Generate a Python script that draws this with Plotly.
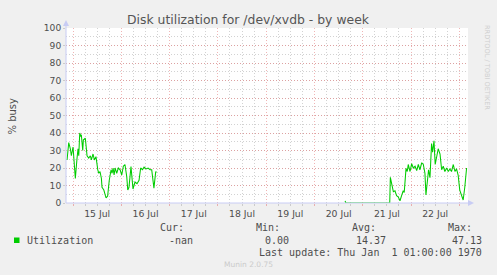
import pandas as pd
import plotly.graph_objects as go

# ---- data ----
# hours since 15 Jul 00:00, and % busy (None = no data)
hours = [
    -2.98, -2.14, -1.34, -0.84, 0.0, 0.5, 1.14, 1.99, 2.48, 2.83, 3.33, 3.83, 4.12,
    4.82, 5.12, 6.1, 6.96, 7.8, 8.6, 9.1, 9.94, 10.6, 11.4, 12.3, 12.8, 13.4, 14.1,
    14.4, 15.3, 16.4, 17.2, 18.0, 18.9, 19.4, 19.9, 20.4, 20.9, 21.7, 22.5, 23.4,
    24.2, 25.0, 25.8, 26.7, 27.2, 27.8, 28.3, 28.8, 29.8, 30.8, 31.8, 32.8, 33.6,
    34.5, 35.3, 36.3, 37.3, 38.3, 39.1, 39.8, 40.2, 41.1, 41.5,
    42.0,
    135.2, 135.6, 146.0, 157.4, 157.7, 158.4, 159.2, 160.0, 160.8, 161.6, 162.5,
    163.3, 164.1, 164.6, 165.5, 166.1, 166.6, 167.5, 168.3, 169.1, 170.0, 170.8,
    171.6, 172.4, 173.3, 174.1, 174.9, 175.4, 176.0, 176.7, 177.4, 178.2, 178.7,
    179.4, 180.0, 180.7, 181.5, 182.4, 183.2, 184.0, 184.8, 185.7, 186.5, 187.3,
    188.1, 189.0, 189.8, 190.6, 191.4, 192.2, 193.1, 193.9, 194.7, 195.6,
]
busy = [
    24.6, 34.5, 31, 27, 32, 25, 14, 25.7, 31, 27, 40, 38, 39,
    30, 36, 37, 27, 25.7, 27, 24.6, 28, 24.6, 26.5, 18.9, 17, 18, 14,
    9, 7.4, 2.9, 4, 13, 19, 17, 20, 16, 20, 17, 20, 19,
    16, 21, 22, 15, 7.4, 9, 14, 20.8, 8, 12, 11, 13, 20,
    19, 20.5, 19.5, 20, 19, 19, 9.5, 8.5, 18, 17.5,
    None,
    1.2, 0, 0, 0, 14.7, 10.5, 6.5, 7, 4.2, 3.5, 1.3,
    4.2, 7, 6, 19.8, 18, 22, 18, 22.5, 20, 21, 18.5,
    22, 19, 23, 22, 17, 4.6, 13, 19, 14.5, 34, 29,
    35.5, 22, 27, 31, 28, 19, 21, 18, 20, 18, 19.5,
    18, 22, 18, 19.5, 16, 7.4, 4.5, 1.7, 9, 20,
]
y_ticks = list(range(0, 101, 10))
legend_name = "Utilization"
stat_heads = ["Cur:", "Min:", "Avg:", "Max:"]
stat_vals = ["-nan", "0.00", "14.37", "47.13"]
title_text = "Disk utilization for /dev/xvdb - by week"
last_update = "Last update: Thu Jan  1 01:00:00 1970"

base = pd.Timestamp("2024-07-15 00:00")
times = [base + pd.Timedelta(hours=h) for h in hours]
x_start = base + pd.Timedelta(hours=-3.5)
x_end = base + pd.Timedelta(hours=196.3)

# ---- layout geometry (pixels) ----
W, H = 497, 275
L, R, T, B = 66, 29, 28, 72
PW, PH = W - L - R, H - T - B


def px(x):
    return (x - L) / PW


def py(y):
    return (H - B - y) / PH


GREEN = "#00CC00"
TXT = "#4d4d4d"
AXIS = "#C8CCF4"
MGRID = "rgba(228,120,120,0.55)"
GRID = "rgba(165,165,165,0.5)"

fig = go.Figure()
fig.add_trace(go.Scatter(
    x=times, y=busy, mode="lines", connectgaps=False,
    line=dict(color=GREEN, width=1.05), cliponaxis=False, showlegend=False,
))

fig.update_layout(
    width=W, height=H, autosize=False,
    margin=dict(l=L, r=R, t=T, b=B, pad=0),
    paper_bgcolor="#F0F0F0", plot_bgcolor="#FFFFFF",
    font=dict(family="DejaVu Sans", size=9.3, color=TXT),
    showlegend=False,
)
fig.update_xaxes(
    type="date", range=[x_start, x_end],
    tick0="2024-07-15", dtick=86400000, tickformat="%d %b",
    ticklabelmode="period",
    showgrid=True, gridcolor=MGRID, griddash="1px,2px", gridwidth=1,
    ticks="outside", ticklen=2, tickcolor=MGRID,
    minor=dict(dtick=21600000, tick0="2024-07-15", showgrid=True,
               gridcolor=GRID, griddash="1px,2px", ticks="outside",
               ticklen=2, tickcolor=GRID),
    showline=False, zeroline=False,
    tickfont=dict(size=9.3, color=TXT),
)
fig.update_yaxes(
    range=[0, 100], tickvals=y_ticks,
    showgrid=True, gridcolor=MGRID, griddash="1px,2px",
    ticks="outside", ticklen=2, tickcolor=GRID,
    minor=dict(dtick=5, showgrid=True, gridcolor=GRID, griddash="1px,2px"),
    showline=False, zeroline=False,
    tickfont=dict(size=9.1, color=TXT),
)

shapes = [
    # y axis line with arrow
    dict(type="line", xref="paper", yref="paper", x0=0, x1=0, y0=0, y1=py(22),
         line=dict(color=AXIS, width=1)),
    dict(type="path", xref="paper", yref="paper",
         path=f"M {px(63)} {py(26)} L {px(69)} {py(26)} L {px(66)} {py(20)} Z",
         fillcolor=AXIS, line=dict(width=0)),
    # x axis line with arrow
    dict(type="line", xref="paper", yref="paper", x0=0, x1=px(472), y0=0, y1=0,
         line=dict(color=AXIS, width=1)),
    dict(type="path", xref="paper", yref="paper",
         path=f"M {px(468)} {py(200)} L {px(468)} {py(206)} L {px(474)} {py(203)} Z",
         fillcolor=AXIS, line=dict(width=0)),
    # legend swatch
    dict(type="rect", xref="paper", yref="paper",
         x0=px(14), x1=px(19.5), y0=py(237.5), y1=py(243),
         fillcolor=GREEN, line=dict(width=0)),
]
fig.update_layout(shapes=shapes)

mono = dict(family="DejaVu Sans Mono", size=10, color=TXT)
ann = [
    dict(text=title_text, x=px(248.5), y=py(19), xanchor="center", yanchor="middle",
         font=dict(family="DejaVu Sans", size=12.4, color="#555555")),
    dict(text="% busy", x=px(12), y=py(116.5), textangle=-90, xanchor="center",
         yanchor="middle", font=dict(family="DejaVu Sans", size=10, color=TXT)),
    dict(text="RRDTOOL / TOBI OETIKER", x=px(487), y=py(67), textangle=90,
         xanchor="center", yanchor="middle",
         font=dict(family="DejaVu Sans", size=6.6, color="#CFCFCF")),
    dict(text=legend_name, x=px(25), y=py(240), xanchor="left", yanchor="middle",
         font=mono),
    dict(text=last_update, x=px(483.5), y=py(252), xanchor="right", yanchor="middle",
         font=mono),
    dict(text="Munin 2.0.75", x=px(248), y=py(264), xanchor="center", yanchor="middle",
         font=dict(family="DejaVu Sans", size=7.5, color="#CBCBCB")),
]
head_x = [157.5, 253.5, 350, 446]
val_right = [195, 291, 387.5, 483.5]
for hx, htxt in zip(head_x, stat_heads):
    ann.append(dict(text=htxt, x=px(hx), y=py(227.5), xanchor="left",
                    yanchor="middle", font=mono))
for vx, vtxt in zip(val_right, stat_vals):
    ann.append(dict(text=vtxt, x=px(vx), y=py(240), xanchor="right",
                    yanchor="middle", font=mono))
for a in ann:
    a.update(xref="paper", yref="paper", showarrow=False)
fig.update_layout(annotations=ann)

fig.write_html("out.html")
